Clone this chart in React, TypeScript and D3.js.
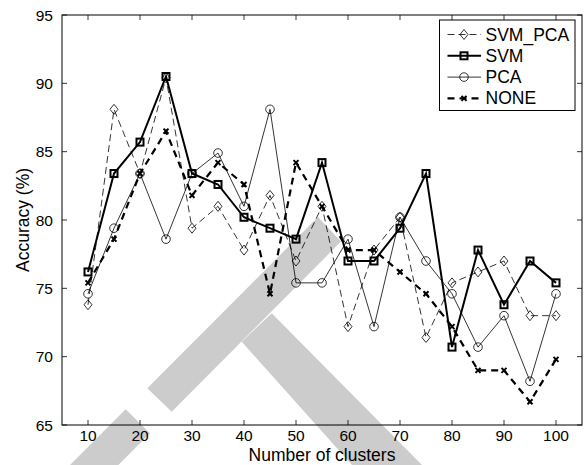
import * as d3 from "d3";

// cluster counts on the x axis
const clusters = [10, 15, 20, 25, 30, 35, 40, 45, 50, 55, 60, 65, 70, 75, 80, 85, 90, 95, 100];

// accuracy (%) per method
const svmPca = [73.8, 88.1, 83.4, 90.4, 79.4, 81.0, 77.8, 81.8, 77.0, 81.0, 72.2, 77.8, 80.2, 71.4, 75.4, 76.2, 77.0, 73.0, 73.0];
const svm = [76.2, 83.4, 85.7, 90.5, 83.4, 82.6, 80.2, 79.4, 78.6, 84.2, 77.0, 77.0, 79.4, 83.4, 70.7, 77.8, 73.8, 77.0, 75.4];
const pca = [74.6, 79.4, 83.4, 78.6, 83.4, 84.9, 81.0, 88.1, 75.4, 75.4, 78.6, 72.2, 80.2, 77.0, 74.6, 70.7, 73.0, 68.2, 74.6];
const none = [75.4, 78.6, 83.4, 86.5, 81.8, 84.2, 82.6, 74.6, 84.2, 81.0, 77.8, 77.8, 76.2, 74.6, 72.2, 69.0, 69.0, 66.7, 69.8];

const xTicks = [10, 20, 30, 40, 50, 60, 70, 80, 90, 100];
const yTicks = [65, 70, 75, 80, 85, 90, 95];

const W = 585;
const H = 465;
const left = 62, right = 582, top = 15, bottom = 425;
const FONT = "'Liberation Sans', Arial, Helvetica, sans-serif";

const x = d3.scaleLinear().domain([5, 105]).range([left, right]);
const y = d3.scaleLinear().domain([65, 95]).range([bottom, top]);

type Marker = "diamond" | "square" | "circle" | "x";

const series: { name: string; values: number[]; width: number; dash?: string; marker: Marker }[] = [
  { name: "SVM_PCA", values: svmPca, width: 0.8, dash: "7,4", marker: "diamond" },
  { name: "SVM", values: svm, width: 2, marker: "square" },
  { name: "PCA", values: pca, width: 0.8, marker: "circle" },
  { name: "NONE", values: none, width: 2.2, dash: "7,5", marker: "x" },
];

function drawMarker(kind: Marker, cx: number, cy: number, key: string | number) {
  if (kind === "diamond")
    return <path key={key} d={`M${cx},${cy - 5}L${cx + 4},${cy}L${cx},${cy + 5}L${cx - 4},${cy}Z`} fill="none" stroke="#000" strokeWidth={0.8} />;
  if (kind === "square")
    return <rect key={key} x={cx - 3.5} y={cy - 3.5} width={7} height={7} fill="none" stroke="#000" strokeWidth={2} />;
  if (kind === "circle")
    return <circle key={key} cx={cx} cy={cy} r={4.3} fill="none" stroke="#000" strokeWidth={0.8} />;
  return (
    <path key={key} d={`M${cx - 2.5},${cy - 2.5}L${cx + 2.5},${cy + 2.5}M${cx - 2.5},${cy + 2.5}L${cx + 2.5},${cy - 2.5}`} stroke="#000" strokeWidth={2} />
  );
}

export default function App() {
  const line = d3
    .line<number>()
    .x((_, i) => x(clusters[i]))
    .y((d) => y(d));

  return (
    <svg width={W} height={H} style={{ position: "absolute", left: 0, top: 0, background: "#fff" }} fontFamily={FONT}>
      <rect width={W} height={H} fill="#fff" />
      {/* grey watermark behind the plot */}
      <g fill="#cccccc">
        <path d="M318,217L341,241.5L171.7,411.7L147.3,388.3Z" />
        <path d="M241.7,341.7L271.7,313.3L422,465L352,465Z" />
        <path d="M125.7,409.3L150,433.3L118.3,465L70,465Z" />
      </g>

      {/* ticks, inward on all four sides */}
      <g stroke="#000" strokeWidth={0.8}>
        {xTicks.map((t) => (
          <g key={"x" + t}>
            <line x1={x(t)} x2={x(t)} y1={bottom} y2={bottom - 5} />
            <line x1={x(t)} x2={x(t)} y1={top} y2={top + 5} />
          </g>
        ))}
        {yTicks.map((t) => (
          <g key={"y" + t}>
            <line x1={left} x2={left + 5} y1={y(t)} y2={y(t)} />
            <line x1={right} x2={right - 5} y1={y(t)} y2={y(t)} />
          </g>
        ))}
      </g>

      {series.map((s) => (
        <g key={s.name}>
          <path d={line(s.values) ?? ""} fill="none" stroke="#000" strokeWidth={s.width} strokeDasharray={s.dash} />
          {s.values.map((v, i) => drawMarker(s.marker, x(clusters[i]), y(v), i))}
        </g>
      ))}

      <rect x={left} y={top} width={right - left} height={bottom - top} fill="none" stroke="#000" strokeWidth={1} />

      <g fontSize={15.5} fill="#000">
        {xTicks.map((t) => (
          <text key={t} x={x(t)} y={441} textAnchor="middle">
            {t}
          </text>
        ))}
        {yTicks.map((t) => (
          <text key={t} x={53} y={y(t)} textAnchor="end" dominantBaseline="central">
            {t}
          </text>
        ))}
      </g>

      <text x={(left + right) / 2} y={461} textAnchor="middle" fontSize={17.5}>
        Number of clusters
      </text>
      <text transform={`translate(29,220) rotate(-90)`} textAnchor="middle" fontSize={17.5}>
        Accuracy (%)
      </text>

      {/* legend */}
      <g>
        <rect x={439.5} y={20} width={135.5} height={90.5} fill="#fff" stroke="#000" strokeWidth={1} />
        {series.map((s, i) => {
          const ly = 34.5 + i * 21.3;
          return (
            <g key={s.name}>
              <line x1={447.5} x2={481} y1={ly} y2={ly} stroke="#000" strokeWidth={s.width} strokeDasharray={s.dash} />
              {drawMarker(s.marker, 464, ly, "m")}
              <text x={485.5} y={ly} dominantBaseline="central" fontSize={17.5}>
                {s.name}
              </text>
            </g>
          );
        })}
      </g>
    </svg>
  );
}
